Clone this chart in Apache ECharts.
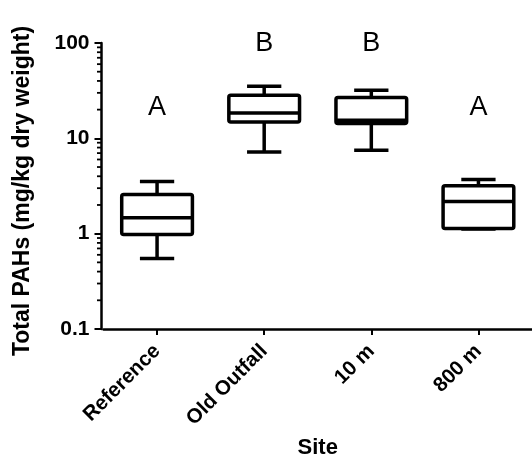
<!DOCTYPE html>
<html><head><meta charset="utf-8">
<script src="https://cdn.jsdelivr.net/npm/echarts@6/dist/echarts.min.js"></script>
<style>html,body{margin:0;padding:0;background:#fff}#c{width:532px;height:456px}</style>
</head><body><div id="c"></div>
<script>
var categories = ['Reference', 'Old Outfall', '10 m', '800 m'];
var whiskerLow = [0.55, 7.2, 7.5, 1.12];
var q1 = [0.98, 14.8, 14.3, 1.13];
var median = [1.47, 18.4, 15.5, 2.18];
var q3 = [2.57, 28.3, 26.8, 3.19];
var whiskerHigh = [3.52, 35.2, 31.9, 3.69];
var letters = ['A', 'B', 'B', 'A'];
var letterY = [20.8, 99, 99, 20.8];
var yTicks = [0.1, 1, 10, 100];
var minorTickValues = [0.2,0.3,0.4,0.5,0.6,0.7,0.8,0.9,2,3,4,5,6,7,8,9,20,30,40,50,60,70,80,90];

var FONT = 'Arial, "Liberation Sans", sans-serif';
var boxData = categories.map(function(c, i){ return [i, whiskerLow[i], q1[i], median[i], q3[i], whiskerHigh[i]]; });
var letterData = categories.map(function(c, i){ return [i, letterY[i]]; });
var minorData = minorTickValues.map(function(v){ return [0, v]; });

var chart = echarts.init(document.getElementById('c'));
chart.setOption({
  animation: false,
  backgroundColor: '#fff',
  grid: { left: 103.5, right: 0, top: 43, bottom: 127, containLabel: false, outerBoundsMode: 'none' },
  xAxis: {
    type: 'category', data: categories,
    name: 'Site', nameLocation: 'middle', nameGap: 106,
    nameTextStyle: { fontFamily: FONT, fontWeight: 'bold', fontSize: 22, color: '#000' },
    axisLine: { lineStyle: { color: '#000', width: 2.5 } },
    axisTick: { show: true, alignWithLabel: true, length: 6, lineStyle: { color: '#000', width: 2 } },
    axisLabel: { rotate: 45, margin: 19, fontFamily: FONT, fontWeight: 'bold', fontSize: 20.5, color: '#000', interval: 0 },
    splitLine: { show: false }
  },
  yAxis: {
    type: 'log', logBase: 10, min: 0.1, max: 100, offset: 2,
    name: 'Total PAHs (mg/kg dry weight)', nameLocation: 'middle', nameGap: 67,
    nameTextStyle: { fontFamily: FONT, fontWeight: 'bold', fontSize: 23, color: '#000', padding: [0, 10, 0, 0] },
    axisLine: { show: true, lineStyle: { color: '#000', width: 2.5 } },
    axisTick: { show: true, length: 7, lineStyle: { color: '#000', width: 2 } },
    axisLabel: { margin: 12, fontFamily: FONT, fontWeight: 'bold', fontSize: 21, color: '#000',
      formatter: function(v){ var r = parseFloat(Number(v).toPrecision(6)); return yTicks.indexOf(r) >= 0 ? String(r) : ''; } },
    splitLine: { show: false }
  },
  series: [
    {
      type: 'custom', data: boxData, encode: { x: 0, y: [1,2,3,4,5] }, clip: false,
      renderItem: function(params, api){
        var i = api.value(0);
        var band = api.size([1, 0])[0];
        var bw = band * 0.33, cw = band * 0.16;
        var pLo = api.coord([i, api.value(1)]);
        var pQ1 = api.coord([i, api.value(2)]);
        var pMed = api.coord([i, api.value(3)]);
        var pQ3 = api.coord([i, api.value(4)]);
        var pHi = api.coord([i, api.value(5)]);
        var x = pLo[0];
        var ls = { stroke: '#000', lineWidth: 3.5, fill: null };
        return { type: 'group', children: [
          { type: 'line', shape: { x1: x, y1: pHi[1], x2: x, y2: pQ3[1] }, style: ls },
          { type: 'line', shape: { x1: x, y1: pLo[1], x2: x, y2: pQ1[1] }, style: ls },
          { type: 'line', shape: { x1: x - cw, y1: pHi[1], x2: x + cw, y2: pHi[1] }, style: ls },
          { type: 'line', shape: { x1: x - cw, y1: pLo[1], x2: x + cw, y2: pLo[1] }, style: ls },
          { type: 'rect', shape: { x: x - bw, y: pQ3[1], width: 2 * bw, height: pQ1[1] - pQ3[1], r: 2 }, style: { stroke: '#000', lineWidth: 3.5, fill: '#fff' } },
          { type: 'line', shape: { x1: x - bw, y1: pMed[1], x2: x + bw, y2: pMed[1] }, style: ls }
        ]};
      }
    },
    {
      type: 'custom', data: letterData, encode: { x: 0, y: 1 }, clip: false, z: 5,
      renderItem: function(params, api){
        var p = api.coord([api.value(0), api.value(1)]);
        return { type: 'text', x: p[0], y: p[1], style: { text: letters[params.dataIndex], fill: '#000',
          font: 'normal 27px ' + FONT, textAlign: 'center', textVerticalAlign: 'middle' } };
      }
    },
    {
      type: 'custom', data: minorData, encode: { x: 0, y: 1 }, clip: false,
      renderItem: function(params, api){
        var p = api.coord([0, api.value(1)]);
        var x0 = params.coordSys.x - 2;
        return { type: 'line', shape: { x1: x0 - 4.5, y1: p[1], x2: x0, y2: p[1] }, style: { stroke: '#000', lineWidth: 1.8 } };
      }
    }
  ]
});
</script></body></html>
